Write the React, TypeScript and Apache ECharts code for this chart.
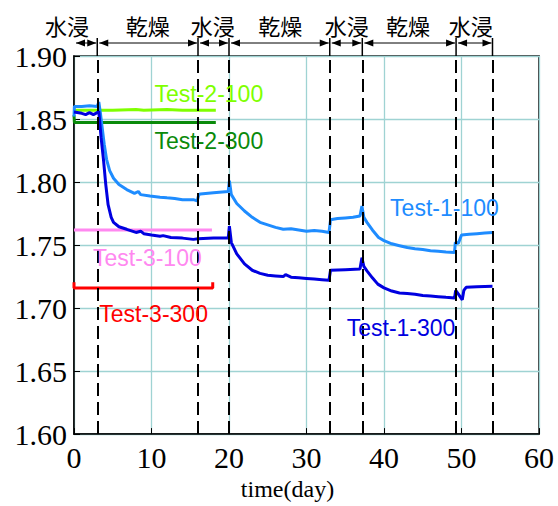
import React, { useEffect, useRef } from "react";
import * as echarts from "echarts";

// ---- data ----
const test1_100: [number, number][] = [
  [0, 1.852], [0.05, 1.86], [1, 1.86], [2, 1.8605], [3, 1.86], [3.2, 1.8635], [3.4, 1.855], [3.6, 1.845],
  [3.9, 1.83], [4.2, 1.818], [4.6, 1.809], [5.1, 1.803], [5.8, 1.798], [6.8, 1.794], [7.8, 1.791],
  [8.3, 1.7925], [8.6, 1.79], [9.8, 1.789], [11.1, 1.788], [12, 1.7875], [13, 1.787], [14, 1.786],
  [15.4, 1.786], [15.9, 1.785], [16.1, 1.79], [16.3, 1.7905], [18, 1.7915], [19.9, 1.7925],
  [20.05, 1.801], [20.3, 1.79], [21, 1.783], [22, 1.777], [23, 1.772], [24, 1.768], [25, 1.766],
  [26, 1.764], [27, 1.7625], [28, 1.763], [29, 1.762], [30, 1.761], [31, 1.7615], [32, 1.761],
  [32.9, 1.76], [33.1, 1.77], [34, 1.771], [35, 1.7715], [36, 1.772], [36.9, 1.773], [37.15, 1.781],
  [37.4, 1.772], [37.8, 1.768], [38.5, 1.762], [39.3, 1.756], [40, 1.7535], [41, 1.751], [42, 1.7495],
  [43, 1.748], [44, 1.747], [45, 1.7465], [46, 1.7455], [47, 1.745], [48, 1.7445], [49.1, 1.744],
  [49.2, 1.752], [49.6, 1.7515], [50, 1.758], [51, 1.7585], [52, 1.759], [53, 1.7595], [54, 1.76],
];
const test1_300: [number, number][] = [
  [0, 1.8555], [1, 1.8545], [1.5, 1.8535], [2, 1.855], [2.5, 1.8535], [3, 1.855], [3.2, 1.856],
  [3.5, 1.835], [3.8, 1.818], [4.1, 1.798], [4.4, 1.782], [4.8, 1.772], [5.1, 1.768], [5.8, 1.7645],
  [6.8, 1.7625], [8, 1.76], [8.6, 1.761], [9, 1.759], [10, 1.758], [11.1, 1.757], [11.5, 1.7575],
  [12.5, 1.756], [14, 1.7555], [15.4, 1.7545], [16, 1.755], [18, 1.7555], [19.9, 1.7555],
  [20.05, 1.765], [20.3, 1.752], [21, 1.743], [22, 1.735], [23, 1.73], [24, 1.7275], [25, 1.726],
  [26, 1.7255], [27, 1.725], [27.3, 1.7265], [28, 1.7245], [29, 1.724], [30, 1.7235], [31, 1.723],
  [32, 1.7225], [32.9, 1.722], [33.1, 1.73], [35, 1.7305], [36.9, 1.731], [37.15, 1.74], [37.4, 1.733],
  [37.8, 1.7295], [38.5, 1.724], [39.2, 1.719], [40, 1.716], [41, 1.7135], [42, 1.712], [43, 1.7115],
  [44, 1.711], [45, 1.71], [46, 1.7095], [47, 1.709], [48, 1.7085], [49.1, 1.708], [49.25, 1.714],
  [49.6, 1.711], [50.1, 1.7065], [50.3, 1.714], [50.6, 1.7165], [52, 1.717], [54, 1.7173],
];
const test2_100: [number, number][] = [
  [0, 1.857], [5, 1.857], [8, 1.8575], [9, 1.857], [12, 1.8575], [14, 1.857], [18.3, 1.857],
];
const test2_300: [number, number][] = [[0, 1.853], [0.05, 1.8473], [18.3, 1.8473]];
const test3_100: [number, number][] = [[0, 1.762], [17.8, 1.762]];
const test3_300: [number, number][] = [[0, 1.7205], [0, 1.716], [17.9, 1.716], [17.9, 1.7205]];

// phase boundaries (days) and labels
const phaseBounds = [0, 3, 16, 20, 33, 37.2, 49.3, 54];
const phaseLabels = ["水浸", "乾燥", "水浸", "乾燥", "水浸", "乾燥", "水浸"];
const phaseLabelDays = [-0.9, 9.5, 17.9, 26.6, 35.2, 43.1, 51.2];

// series label anchors [day, value]
const seriesNames = ["Test-2-100", "Test-2-300", "Test-1-100", "Test-3-100", "Test-3-300", "Test-1-300"];
const labelAnchors: [number, number][] = [
  [17.4, 1.8702], [17.4, 1.8329], [47.8, 1.7794], [9.47, 1.7397], [10.27, 1.6953], [42.2, 1.684],
];
const seriesColors = ["#80ff00", "#0a8a0a", "#1e8cff", "#ff88f0", "#ff0000", "#0000e0"];

const xTicks = { min: 0, max: 60, interval: 10 };
const yTicks = { min: 1.6, max: 1.9, interval: 0.05 };

export default function App() {
  const ref = useRef<HTMLDivElement>(null);
  useEffect(() => {
    document.body.style.margin = "0";
    const chart = echarts.init(ref.current!, null, { renderer: "svg" });
    const serif = "Liberation Serif";
    const dataMap: Record<string, [number, number][]> = {
      "Test-2-100": test2_100,
      "Test-2-300": test2_300,
      "Test-1-100": test1_100,
      "Test-3-100": test3_100,
      "Test-3-300": test3_300,
      "Test-1-300": test1_300,
    };
    const lineSeries = seriesNames.map((n, i) => ({
      name: n,
      type: "line",
      data: dataMap[n],
      showSymbol: false,
      symbol: "none",
      lineStyle: { color: seriesColors[i], width: 3 },
      itemStyle: { color: seriesColors[i] },
      z: 3,
    }));
    const axisLabelStyle = {
      fontFamily: serif, fontSize: 30, color: "#000", fontWeight: "normal" as const,
    };
    chart.setOption({
      animation: false,
      textStyle: { fontFamily: serif },
      grid: {
        left: 74, right: 19, top: 56, bottom: 67,
        show: true, borderColor: "#000", borderWidth: 1.5, backgroundColor: "#fff",
      },
      xAxis: {
        type: "value", ...xTicks,
        name: "time(day)", nameLocation: "middle", nameGap: 40,
        nameTextStyle: { fontFamily: serif, fontSize: 24, color: "#000", padding: [0, 38, 0, 0] },
        axisLine: { show: true, lineStyle: { color: "#000", width: 1.5 } },
        axisTick: { show: true, inside: true, length: 6, lineStyle: { color: "#000" } },
        axisLabel: { ...axisLabelStyle, margin: 8 },
        splitLine: { show: true, lineStyle: { color: "#9fd3d3", width: 1.3 } },
      },
      yAxis: {
        type: "value", ...yTicks,
        axisLine: { show: true, lineStyle: { color: "#000", width: 1.5 } },
        axisTick: { show: true, inside: true, length: 6, lineStyle: { color: "#000" } },
        axisLabel: {
          ...axisLabelStyle, margin: 7,
          formatter: (v: number) => v.toFixed(2),
        },
        splitLine: { show: true, lineStyle: { color: "#9fd3d3", width: 1.3 } },
      },
      series: [
        ...lineSeries,
        {
          name: "bounds",
          type: "line",
          data: [],
          z: 5,
          markLine: {
            silent: true,
            symbol: ["none", "none"],
            label: { show: false },
            lineStyle: { color: "#000", type: [13, 6], width: 2 },
            data: phaseBounds.slice(1).map((d) => ({ xAxis: d })),
          },
        },
      ],
    });

    const px = (d: number) => chart.convertToPixel({ xAxisIndex: 0 }, d) as number;
    const py = (v: number) => chart.convertToPixel({ yAxisIndex: 0 }, v) as number;
    const top = py(yTicks.max);
    const arrowY = top - 13;
    const graphics: any[] = [];
    phaseBounds.slice(1).forEach((d) => {
      const x = px(d);
      graphics.push({
        type: "line", shape: { x1: x, y1: top - 18, x2: x, y2: top },
        style: { stroke: "#000", lineWidth: 1.5 },
      });
    });
    for (let i = 0; i < phaseBounds.length - 1; i++) {
      const xa = px(phaseBounds[i]) + 2;
      const xb = px(phaseBounds[i + 1]) - 1;
      graphics.push({
        type: "line", shape: { x1: xa, y1: arrowY, x2: xb, y2: arrowY },
        style: { stroke: "#000", lineWidth: 1 },
      });
      graphics.push({
        type: "polygon",
        shape: { points: [[xa, arrowY], [xa + 9, arrowY - 3.5], [xa + 9, arrowY + 3.5]] },
        style: { fill: "#000" },
      });
      graphics.push({
        type: "polygon",
        shape: { points: [[xb, arrowY], [xb - 9, arrowY - 3.5], [xb - 9, arrowY + 3.5]] },
        style: { fill: "#000" },
      });
      graphics.push({
        type: "text",
        x: px(phaseLabelDays[i]), y: top - 31,
        style: {
          text: phaseLabels[i], fill: "#000",
          fontFamily: "Noto Sans CJK JP", fontSize: 22,
          align: "center", verticalAlign: "middle",
        },
      });
    }
    seriesNames.forEach((n, i) => {
      graphics.push({
        type: "text",
        x: px(labelAnchors[i][0]), y: py(labelAnchors[i][1]),
        z: 10,
        style: {
          text: n, fill: seriesColors[i],
          fontFamily: "Liberation Sans", fontSize: 23,
          align: "center", verticalAlign: "middle",
        },
      });
    });
    chart.setOption({ graphic: graphics });
    return () => chart.dispose();
  }, []);
  return <div ref={ref} style={{ width: 558, height: 506 }} />;
}
